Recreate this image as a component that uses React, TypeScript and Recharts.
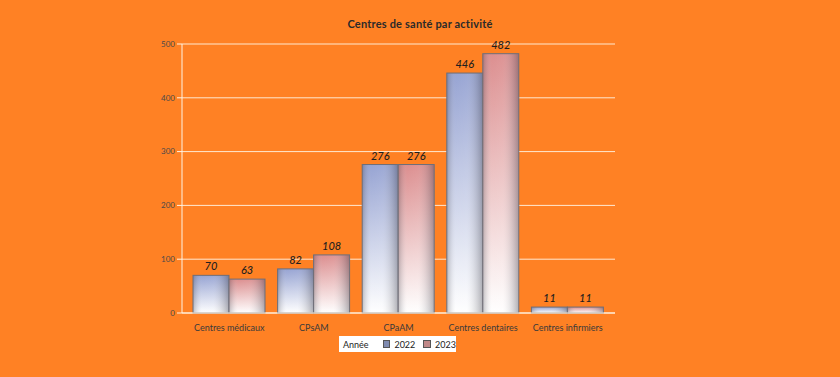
import { BarChart, Bar, XAxis, YAxis, CartesianGrid, LabelList } from 'recharts'

const categories = ['Centres médicaux', 'CPsAM', 'CPaAM', 'Centres dentaires', 'Centres infirmiers']
const values2022 = [70, 82, 276, 446, 11]
const values2023 = [63, 108, 276, 482, 11]
const yTicks = [0, 100, 200, 300, 400, 500]

const data = categories.map((name, i) => ({
    name,
    y2022: values2022[i],
    y2023: values2023[i],
}))

const BG = '#ff8124'
const FONT = 'Lato, "DejaVu Sans", sans-serif'

const labelStyle = {
    fontSize: 11,
    fontStyle: 'italic',
    fontWeight: 500,
    fill: '#1e1e1e',
    fontFamily: FONT,
}

function CylinderBar(props: any) {
    const { x, y, width, height, fillId } = props
    if (!height || height <= 0) return null
    return (
        <g>
            <rect x={x} y={y} width={width} height={height} fill={`url(#${fillId})`} />
            <rect x={x} y={y} width={width} height={height} fill="url(#edgeShade)" />
            <rect
                x={x}
                y={y}
                width={width}
                height={height}
                fill="none"
                stroke="#6e6e78"
                strokeWidth={1}
            />
        </g>
    )
}

export default function App() {
    return (
        <div
            style={{
                position: 'fixed',
                left: 0,
                top: 0,
                width: 840,
                height: 377,
                background: BG,
                fontFamily: FONT,
            }}
        >
            <div
                style={{
                    position: 'absolute',
                    top: 17,
                    width: 840,
                    textAlign: 'center',
                    fontSize: 11,
                    fontWeight: 700,
                    color: '#2a2a2a',
                    letterSpacing: 0.2,
                }}
            >
                Centres de santé par activité
            </div>
            <BarChart
                width={840}
                height={377}
                data={data}
                margin={{ top: 44, right: 225, bottom: 34, left: 0 }}
                barCategoryGap={6}
                barGap={0}
            >
                <defs>
                    <linearGradient id="g2022" x1="0" y1="0" x2="0" y2="1">
                        <stop offset="0%" stopColor="#8e9ccf" />
                        <stop offset="100%" stopColor="#ffffff" />
                    </linearGradient>
                    <linearGradient id="g2023" x1="0" y1="0" x2="0" y2="1">
                        <stop offset="0%" stopColor="#d98586" />
                        <stop offset="100%" stopColor="#ffffff" />
                    </linearGradient>
                    <linearGradient id="edgeShade" x1="0" y1="0" x2="1" y2="0">
                        <stop offset="0%" stopColor="#50505a" stopOpacity={0.35} />
                        <stop offset="25%" stopColor="#ffffff" stopOpacity={0.08} />
                        <stop offset="55%" stopColor="#ffffff" stopOpacity={0.12} />
                        <stop offset="100%" stopColor="#50505a" stopOpacity={0.45} />
                    </linearGradient>
                </defs>
                <CartesianGrid
                    vertical={false}
                    stroke="#fff4e4"
                    strokeWidth={1}
                    strokeOpacity={0.9}
                />
                <XAxis
                    dataKey="name"
                    padding={{ left: 5, right: 5 }}
                    axisLine={{ stroke: '#fff4e4' }}
                    tickLine={false}
                    tickMargin={6}
                    interval={0}
                    tick={{ fontSize: 9, fill: '#3a3a3a', fontFamily: FONT }}
                />
                <YAxis
                    width={182}
                    domain={[0, 500]}
                    ticks={yTicks}
                    axisLine={{ stroke: '#fff4e4' }}
                    tickLine={{ stroke: '#fff4e4' }}
                    tickSize={5}
                    tickMargin={2}
                    tick={{ fontSize: 8, fill: '#4a4a4a', fontFamily: FONT }}
                />
                <Bar
                    dataKey="y2022"
                    isAnimationActive={false}
                    shape={(p: any) => <CylinderBar {...p} fillId="g2022" />}
                >
                    <LabelList dataKey="y2022" position="top" offset={5} style={labelStyle} />
                </Bar>
                <Bar
                    dataKey="y2023"
                    isAnimationActive={false}
                    shape={(p: any) => <CylinderBar {...p} fillId="g2023" />}
                >
                    <LabelList dataKey="y2023" position="top" offset={5} style={labelStyle} />
                </Bar>
            </BarChart>
            <div
                style={{
                    position: 'absolute',
                    left: 339,
                    top: 336,
                    width: 117,
                    height: 16,
                    background: '#ffffff',
                    display: 'flex',
                    alignItems: 'center',
                    fontSize: 9,
                    color: '#222',
                    boxSizing: 'border-box',
                    paddingLeft: 4,
                }}
            >
                <span style={{ marginRight: 14 }}>Année</span>
                <span
                    style={{
                        width: 6,
                        height: 6,
                        background: '#7f8bb0',
                        border: '1px solid #555',
                        marginRight: 4,
                    }}
                />
                <span style={{ marginRight: 8 }}>2022</span>
                <span
                    style={{
                        width: 6,
                        height: 6,
                        background: '#c08888',
                        border: '1px solid #555',
                        marginRight: 4,
                    }}
                />
                <span>2023</span>
            </div>
        </div>
    )
}
